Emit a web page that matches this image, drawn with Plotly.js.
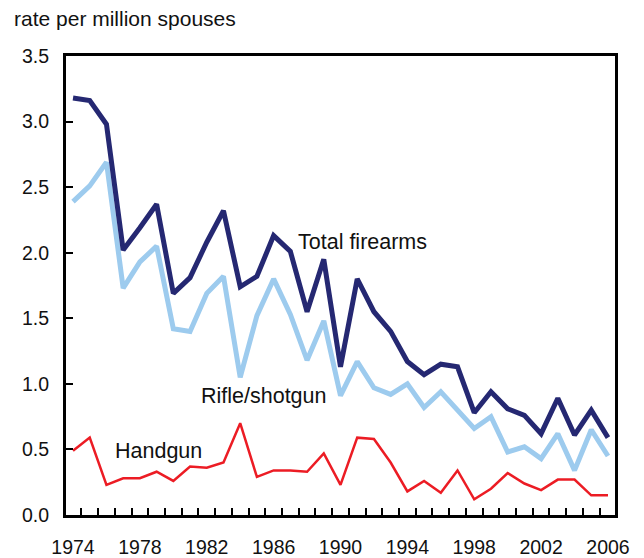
<!DOCTYPE html>
<html>
<head>
<meta charset="utf-8">
<script src="https://cdn.plot.ly/plotly-3.0.1.min.js"></script>
<style>html,body{margin:0;padding:0;background:#fff;}#chart{width:644px;height:558px;}</style>
</head>
<body>
<div id="chart"></div>
<script>
const years = [1974,1975,1976,1977,1978,1979,1980,1981,1982,1983,1984,1985,1986,1987,1988,1989,1990,1991,1992,1993,1994,1995,1996,1997,1998,1999,2000,2001,2002,2003,2004,2005,2006];
const totalFirearms = [3.18,3.16,2.98,2.02,2.19,2.37,1.69,1.81,2.08,2.32,1.74,1.82,2.13,2.01,1.55,1.95,1.13,1.80,1.55,1.40,1.17,1.07,1.15,1.13,0.78,0.94,0.81,0.76,0.62,0.89,0.61,0.80,0.59];
const rifleShotgun = [2.39,2.51,2.69,1.73,1.93,2.05,1.42,1.40,1.69,1.82,1.05,1.52,1.80,1.53,1.18,1.48,0.91,1.17,0.97,0.92,1.00,0.82,0.94,0.80,0.66,0.75,0.48,0.52,0.43,0.62,0.34,0.65,0.45];
const handgun = [0.49,0.59,0.23,0.28,0.28,0.33,0.26,0.37,0.36,0.40,0.70,0.29,0.34,0.34,0.33,0.47,0.23,0.59,0.58,0.40,0.18,0.26,0.17,0.34,0.12,0.20,0.32,0.24,0.19,0.27,0.27,0.15,0.15];
const labelYears = [1974,1978,1982,1986,1990,1994,1998,2002,2006];
const tickMarks = years.slice(0, -1).map(y => y + 0.5);
const yTicks = [0,0.5,1,1.5,2,2.5,3,3.5];

const font = 'Liberation Sans, Arial, Helvetica, sans-serif';
const traces = [
  {x: years, y: handgun, mode: 'lines', line: {color: '#ec1c24', width: 2.5}, xaxis: 'x2', yaxis: 'y', hoverinfo: 'skip'},
  {x: years, y: rifleShotgun, mode: 'lines', line: {color: '#9dcbee', width: 5}, hoverinfo: 'skip'},
  {x: years, y: totalFirearms, mode: 'lines', line: {color: '#252872', width: 5}, hoverinfo: 'skip'}
];
const xRange = [1973.58, 2006.42];
const layout = {
  width: 644, height: 558,
  margin: {l: 66, r: 29, t: 56, b: 43},
  paper_bgcolor: '#fff', plot_bgcolor: '#fff',
  showlegend: false,
  font: {family: font, size: 19, color: '#111'},
  xaxis: {range: xRange, tickvals: labelYears, ticktext: labelYears.map(String), ticks: '', showgrid: false, zeroline: false,
          showline: true, mirror: true, linecolor: '#000', linewidth: 3, ticklabelstandoff: 13,
          tickfont: {family: font, size: 19.5, color: '#111'}},
  xaxis2: {range: xRange, overlaying: 'x', anchor: 'y', side: 'bottom', tickvals: tickMarks, ticks: 'inside', ticklen: 7, tickwidth: 2,
           tickcolor: '#000', showticklabels: false, showgrid: false, zeroline: false, showline: false},
  yaxis: {range: [0, 3.5], tickvals: yTicks, ticktext: yTicks.map(v => v.toFixed(1)), ticks: 'inside', ticklen: 7, tickwidth: 2,
          tickcolor: '#000', showgrid: false, zeroline: false, showline: true, mirror: true, linecolor: '#000', linewidth: 3,
          ticklabelstandoff: 10, tickfont: {family: font, size: 19.5, color: '#111'}},
  annotations: [
    {text: 'rate per million spouses', xref: 'paper', yref: 'paper', x: -54/549, y: 1 + 38/459, xanchor: 'left', yanchor: 'middle', showarrow: false, font: {family: font, size: 21, color: '#111'}},
    {text: 'Total firearms', x: 1987.35, y: 2.08, xanchor: 'left', yanchor: 'middle', showarrow: false, font: {family: font, size: 21.5, color: '#111'}},
    {text: 'Rifle/shotgun', x: 1981.55, y: 0.91, xanchor: 'left', yanchor: 'middle', showarrow: false, font: {family: font, size: 21.5, color: '#111'}},
    {text: 'Handgun', x: 1976.4, y: 0.49, xanchor: 'left', yanchor: 'middle', showarrow: false, font: {family: font, size: 21.5, color: '#111'}}
  ]
};
Plotly.newPlot('chart', traces, layout, {staticPlot: true, displayModeBar: false});
</script>
</body>
</html>
